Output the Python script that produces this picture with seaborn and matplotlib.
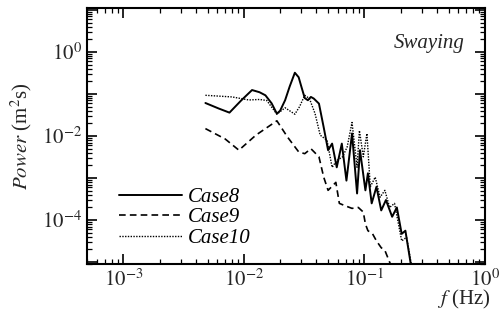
import numpy as np
import pandas as pd
import matplotlib
matplotlib.use("Agg")
import matplotlib.pyplot as plt
import matplotlib.ticker as mticker
import seaborn as sns

sns.set_theme(style="white")
plt.rcParams['font.family'] = ['Liberation Serif', 'DejaVu Serif']
plt.rcParams['mathtext.fontset'] = 'stix'

# ---- data ----
f8 = [0.0048, 0.0062, 0.0076, 0.0095, 0.0117, 0.0135, 0.0151, 0.0170, 0.0188, 0.020,
      0.022, 0.024, 0.0265, 0.0285, 0.030, 0.032, 0.034, 0.036, 0.038,
      0.042, 0.046, 0.050, 0.054, 0.059, 0.065, 0.071, 0.079, 0.087, 0.092,
      0.102, 0.107, 0.115, 0.126, 0.138, 0.151, 0.170, 0.186, 0.204, 0.219, 0.24, 0.25]
p8 = [0.061, 0.045, 0.036, 0.07, 0.124, 0.11, 0.093, 0.06, 0.034, 0.04,
      0.071, 0.15, 0.32, 0.25, 0.15, 0.08, 0.071, 0.085, 0.078,
      0.059, 0.016, 0.0046, 0.0066, 0.0018, 0.0066, 0.00087, 0.0115, 0.00043, 0.0046,
      0.00051, 0.0013, 0.00025, 0.00062, 0.00017, 0.0003, 0.00012, 0.0002, 0.000047,
      0.000056, 0.000011, 0.000005]

f9 = [0.0048, 0.0070, 0.0091, 0.0126, 0.0188, 0.023, 0.0285, 0.032, 0.036, 0.042, 0.046,
      0.050, 0.058, 0.062, 0.069, 0.079, 0.089, 0.098, 0.102, 0.107, 0.117,
      0.126, 0.138, 0.148, 0.162, 0.175]
p9 = [0.015, 0.0085, 0.0046, 0.0105, 0.023, 0.0095, 0.0042, 0.0038, 0.005, 0.0032, 0.00105,
      0.00051, 0.00079, 0.00025, 0.00022, 0.00019, 0.0002, 0.000155, 0.000081, 0.000056,
      0.000047, 0.000032, 0.000022, 0.000019, 0.00001, 0.000006]

f10 = [0.0048, 0.0080, 0.0110, 0.0135, 0.0155, 0.0188, 0.022, 0.0265, 0.029, 0.032, 0.035, 0.039,
       0.043, 0.049, 0.054, 0.059, 0.066, 0.072, 0.079, 0.087, 0.091, 0.098,
       0.105, 0.112, 0.123, 0.135, 0.148, 0.162, 0.178, 0.204, 0.224, 0.245]
p10 = [0.093, 0.085, 0.072, 0.074, 0.07, 0.033, 0.047, 0.033, 0.05, 0.093, 0.078, 0.034,
       0.0105, 0.0079, 0.0018, 0.0026, 0.0032, 0.0055, 0.021, 0.0018, 0.0135, 0.0032,
       0.0115, 0.00062, 0.00105, 0.00035, 0.00051, 0.0002, 0.00025, 0.000032,
       0.000039, 0.000009]

series_names = ["Case8", "Case9", "Case10"]

df = pd.concat([
    pd.DataFrame({"f": f8, "P": p8, "case": "Case8"}),
    pd.DataFrame({"f": f9, "P": p9, "case": "Case9"}),
    pd.DataFrame({"f": f10, "P": p10, "case": "Case10"}),
])

fig = plt.figure(figsize=(5.03, 3.26), dpi=100)
ax = fig.add_axes([0.173, 0.19, 0.791, 0.785])

styles = {"Case8": dict(ls="-", lw=1.4),
          "Case9": dict(ls=(0, (4, 2.5)), lw=1.2),
          "Case10": dict(ls=(0, (1, 1)), lw=1.0)}
for name in series_names:
    sub = df[df["case"] == name]
    sns.lineplot(data=sub, x="f", y="P", ax=ax, color="black", label=name,
                 sort=False, estimator=None, **styles[name])

ax.set_xscale("log")
ax.set_yscale("log")

ax.set_xticks([1e-3, 1e-2, 1e-1, 1e0])
ax.set_xticklabels([r"$10^{-3}$", r"$10^{-2}$", r"$10^{-1}$", r"$10^{0}$"])
ax.xaxis.set_minor_locator(mticker.LogLocator(base=10, subs=np.arange(2, 10), numticks=20))
ax.xaxis.set_minor_formatter(mticker.NullFormatter())

ax.set_yticks([1e-5, 1e-4, 1e-3, 1e-2, 1e-1, 1e0, 1e1])
ax.set_yticklabels(["", r"$10^{-4}$", "", r"$10^{-2}$", "", r"$10^{0}$", ""])
ax.yaxis.set_minor_locator(mticker.LogLocator(base=10, subs=np.arange(2, 10), numticks=20))
ax.yaxis.set_minor_formatter(mticker.NullFormatter())
ax.set_ylim(9e-6, 11)
ax.set_xlim(5e-4, 1.0)

ax.tick_params(which="both", direction="in", top=True, right=True,
               bottom=True, left=True, color="black", labelsize=15)
ax.tick_params(which="major", length=7, width=1.2)
ax.tick_params(which="minor", length=3.5, width=0.9)
for s in ax.spines.values():
    s.set_color("black")
    s.set_linewidth(1.5)

ax.set_xlabel("")
ax.set_ylabel(r"$\it{Power}$ (m$^2$s)", fontsize=15, labelpad=6)
fig.text(0.975, 0.045, r"$\it{f}$ (Hz)", ha="right", va="bottom", fontsize=15)
ax.text(0.95, 0.86, "Swaying", transform=ax.transAxes, ha="right", va="center",
        fontsize=15, style="italic")

leg = ax.legend(loc="lower left", bbox_to_anchor=(0.06, 0.03), frameon=False,
                borderaxespad=0, handlelength=3.0, handletextpad=0.3, labelspacing=0.05,
                prop={"style": "italic", "size": 15})
for t in leg.get_texts():
    t.set_color("black")

fig.savefig("out.png", dpi=100)
